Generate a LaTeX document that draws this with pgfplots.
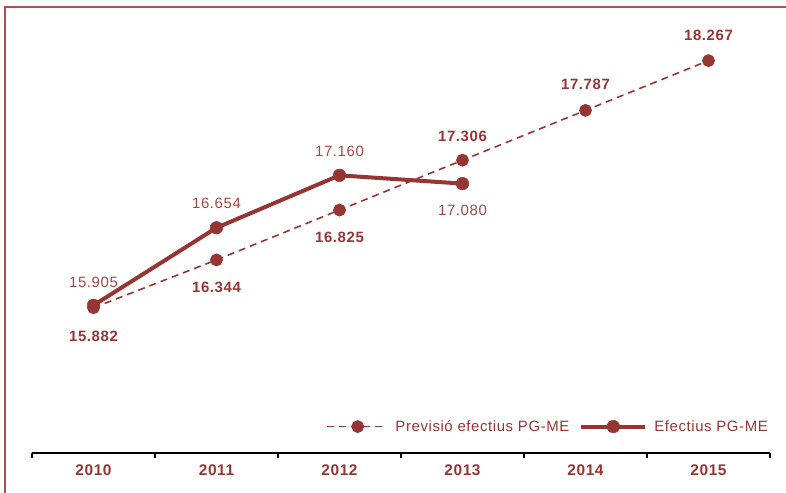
\documentclass[border=0pt]{standalone}
\usepackage{pgfplots}
\pgfplotsset{compat=1.18}
\usepackage{fontspec}
\setmainfont[LetterSpace=4]{Liberation Sans}
\definecolor{mred}{RGB}{150,54,52}
\definecolor{lred}{RGB}{163,72,70}
\definecolor{fred}{RGB}{170,80,78}
\pgfplotsset{
  legA/.style={legend image code/.code={\draw[mark repeat=2,mark phase=2,##1] plot coordinates {(0bp,0bp) (31bp,0bp) (55bp,0bp)};}},
  legB/.style={legend image code/.code={\draw[mark repeat=2,mark phase=2,##1] plot coordinates {(0bp,0bp) (32bp,0bp) (64bp,0bp)};}},
}

\begin{document}
\begin{tikzpicture}
\begin{axis}[
  at={(0,0)}, anchor=south west,
  scale only axis,
  width=738bp, height=416.5bp,
  xmin=-0.5, xmax=5.5,
  ymin=14.48, ymax=18.5,
  clip=false,
  axis x line*=bottom,
  axis y line=none,
  x axis line style={black, line width=1.3bp},
  xtick={0,1,2,3,4,5},
  xticklabels={2010,2011,2012,2013,2014,2015},
  major tick length=0pt,
  xticklabel style={font=\fontsize{15.5}{18}\selectfont\bfseries, text=mred, yshift=-8bp},
  extra x ticks={-0.5,0.5,1.5,2.5,3.5,4.5,5.5},
  extra x tick labels={},
  extra x tick style={major tick length=4.5bp, tick align=outside, tick style={black, line width=1.2bp}},
  legend style={draw=none, fill=none, at={(1,0)}, anchor=south east, xshift=3bp, yshift=16bp,
    font=\fontsize{15}{18}\selectfont, text=mred,
    /tikz/column 1/.style={column sep=11bp},
    /tikz/column 2/.style={column sep=8bp},
    /tikz/column 3/.style={column sep=5bp}},
  legend columns=2,
  legend cell align=left,
  nodes near coords,
  point meta=explicit symbolic,
  visualization depends on={\thisrow{s}\as\labshift},
]
\addplot[mred, line width=1.6bp, dash pattern=on 7bp off 5bp,
  mark=*, mark size=5.6bp, mark options={solid, fill=mred, draw=mred},
  every node near coord/.append style={anchor=center, yshift=\labshift pt,
     font=\fontsize{15}{18}\selectfont\bfseries, text=mred},
  legA
] table[meta=lab] {
x y s lab
0 15.882 -28.7 15.882
1 16.344 -27.5 16.344
2 16.825 -27.5 16.825
3 17.306 24 17.306
4 17.787 25.7 17.787
5 18.267 25 18.267
};
\addlegendentry{Previsió efectius PG-ME}
\addplot[mred, line width=4bp,
  mark=*, mark size=6.3bp, mark options={solid, fill=mred, draw=mred, line width=0.5bp},
  every node near coord/.append style={anchor=center, yshift=\labshift pt,
     font=\fontsize{15}{18}\selectfont, text=lred},
  legB
] table[meta=lab] {
x y s lab
0 15.905 23 15.905
1 16.654 24.5 16.654
2 17.160 24 17.160
3 17.080 -26.7 17.080
};
\addlegendentry{Efectius PG-ME}
\end{axis}
\draw[fred, line width=1.5bp] (-27bp,-40bp) -- (-27bp,446bp) -- (754bp,446bp);
\pgfresetboundingbox
\path[use as bounding box] (-32bp,-40bp) rectangle (754bp,453bp);
\end{tikzpicture}
\end{document}
